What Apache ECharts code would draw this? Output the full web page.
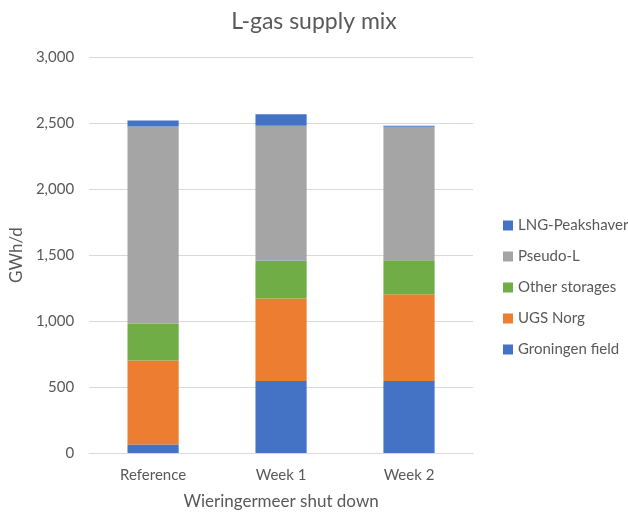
<!DOCTYPE html>
<html>
<head>
<meta charset="utf-8">
<script src="https://cdn.jsdelivr.net/npm/echarts@6/dist/echarts.min.js"></script>
<style>html,body{margin:0;padding:0;background:#fff}#c{width:628px;height:515px}</style>
</head>
<body>
<div id="c"></div>
<script>
const categories = ['Reference', 'Week 1', 'Week 2'];
const groningenField = [65, 545, 545];
const ugsNorg = [635, 625, 657];
const otherStorages = [280, 286, 259];
const pseudoL = [1493, 1024, 1011];
const lngPeakshaver = [46, 86, 8];
const yTicks = { min: 0, max: 3000, interval: 500 };

const FONT = 'Lato';
const TXT = '#595959';
const mk = (name, data, color) => ({
  name, type: 'bar', stack: 'total', data, barWidth: '40%',
  itemStyle: { color }, emphasis: { disabled: true }
});

const chart = echarts.init(document.getElementById('c'));
chart.setOption({
  animation: false,
  textStyle: { fontFamily: FONT },
  title: {
    text: 'L-gas supply mix', left: 'center', top: 5,
    textStyle: { fontFamily: FONT, fontSize: 23, fontWeight: 'normal', color: TXT }
  },
  legend: {
    orient: 'vertical', left: 498, top: 213,
    itemWidth: 10, itemHeight: 10, itemGap: 16,
    icon: 'rect',
    data: ['LNG-Peakshaver', 'Pseudo-L', 'Other storages', 'UGS Norg', 'Groningen field'],
    textStyle: { fontFamily: FONT, fontSize: 15, color: TXT }
  },
  grid: { left: 85, right: 155, top: 57, bottom: 58, containLabel: false },
  xAxis: {
    type: 'category', data: categories,
    name: 'Wieringermeer shut down', nameLocation: 'middle', nameGap: 40,
    nameTextStyle: { fontFamily: FONT, fontSize: 17, color: TXT },
    axisLine: { show: true, lineStyle: { color: '#D9D9D9' } },
    axisTick: { show: false },
    axisLabel: { fontFamily: FONT, fontSize: 15, color: TXT, margin: 15 }
  },
  yAxis: {
    type: 'value', min: yTicks.min, max: yTicks.max, interval: yTicks.interval,
    name: 'GWh/d', nameLocation: 'middle', nameGap: 60, nameRotate: 90,
    nameTextStyle: { fontFamily: FONT, fontSize: 17, color: TXT },
    axisLine: { show: false }, axisTick: { show: false },
    axisLabel: {
      fontFamily: FONT, fontSize: 15, color: TXT, margin: 15,
      formatter: v => v.toLocaleString('en-US')
    },
    splitLine: { lineStyle: { color: '#D9D9D9' } }
  },
  series: [
    mk('Groningen field', groningenField, '#4472C4'),
    mk('UGS Norg', ugsNorg, '#ED7D31'),
    mk('Other storages', otherStorages, '#70AD47'),
    mk('Pseudo-L', pseudoL, '#A5A5A5'),
    mk('LNG-Peakshaver', lngPeakshaver, '#4472C4')
  ]
});
</script>
</body>
</html>
